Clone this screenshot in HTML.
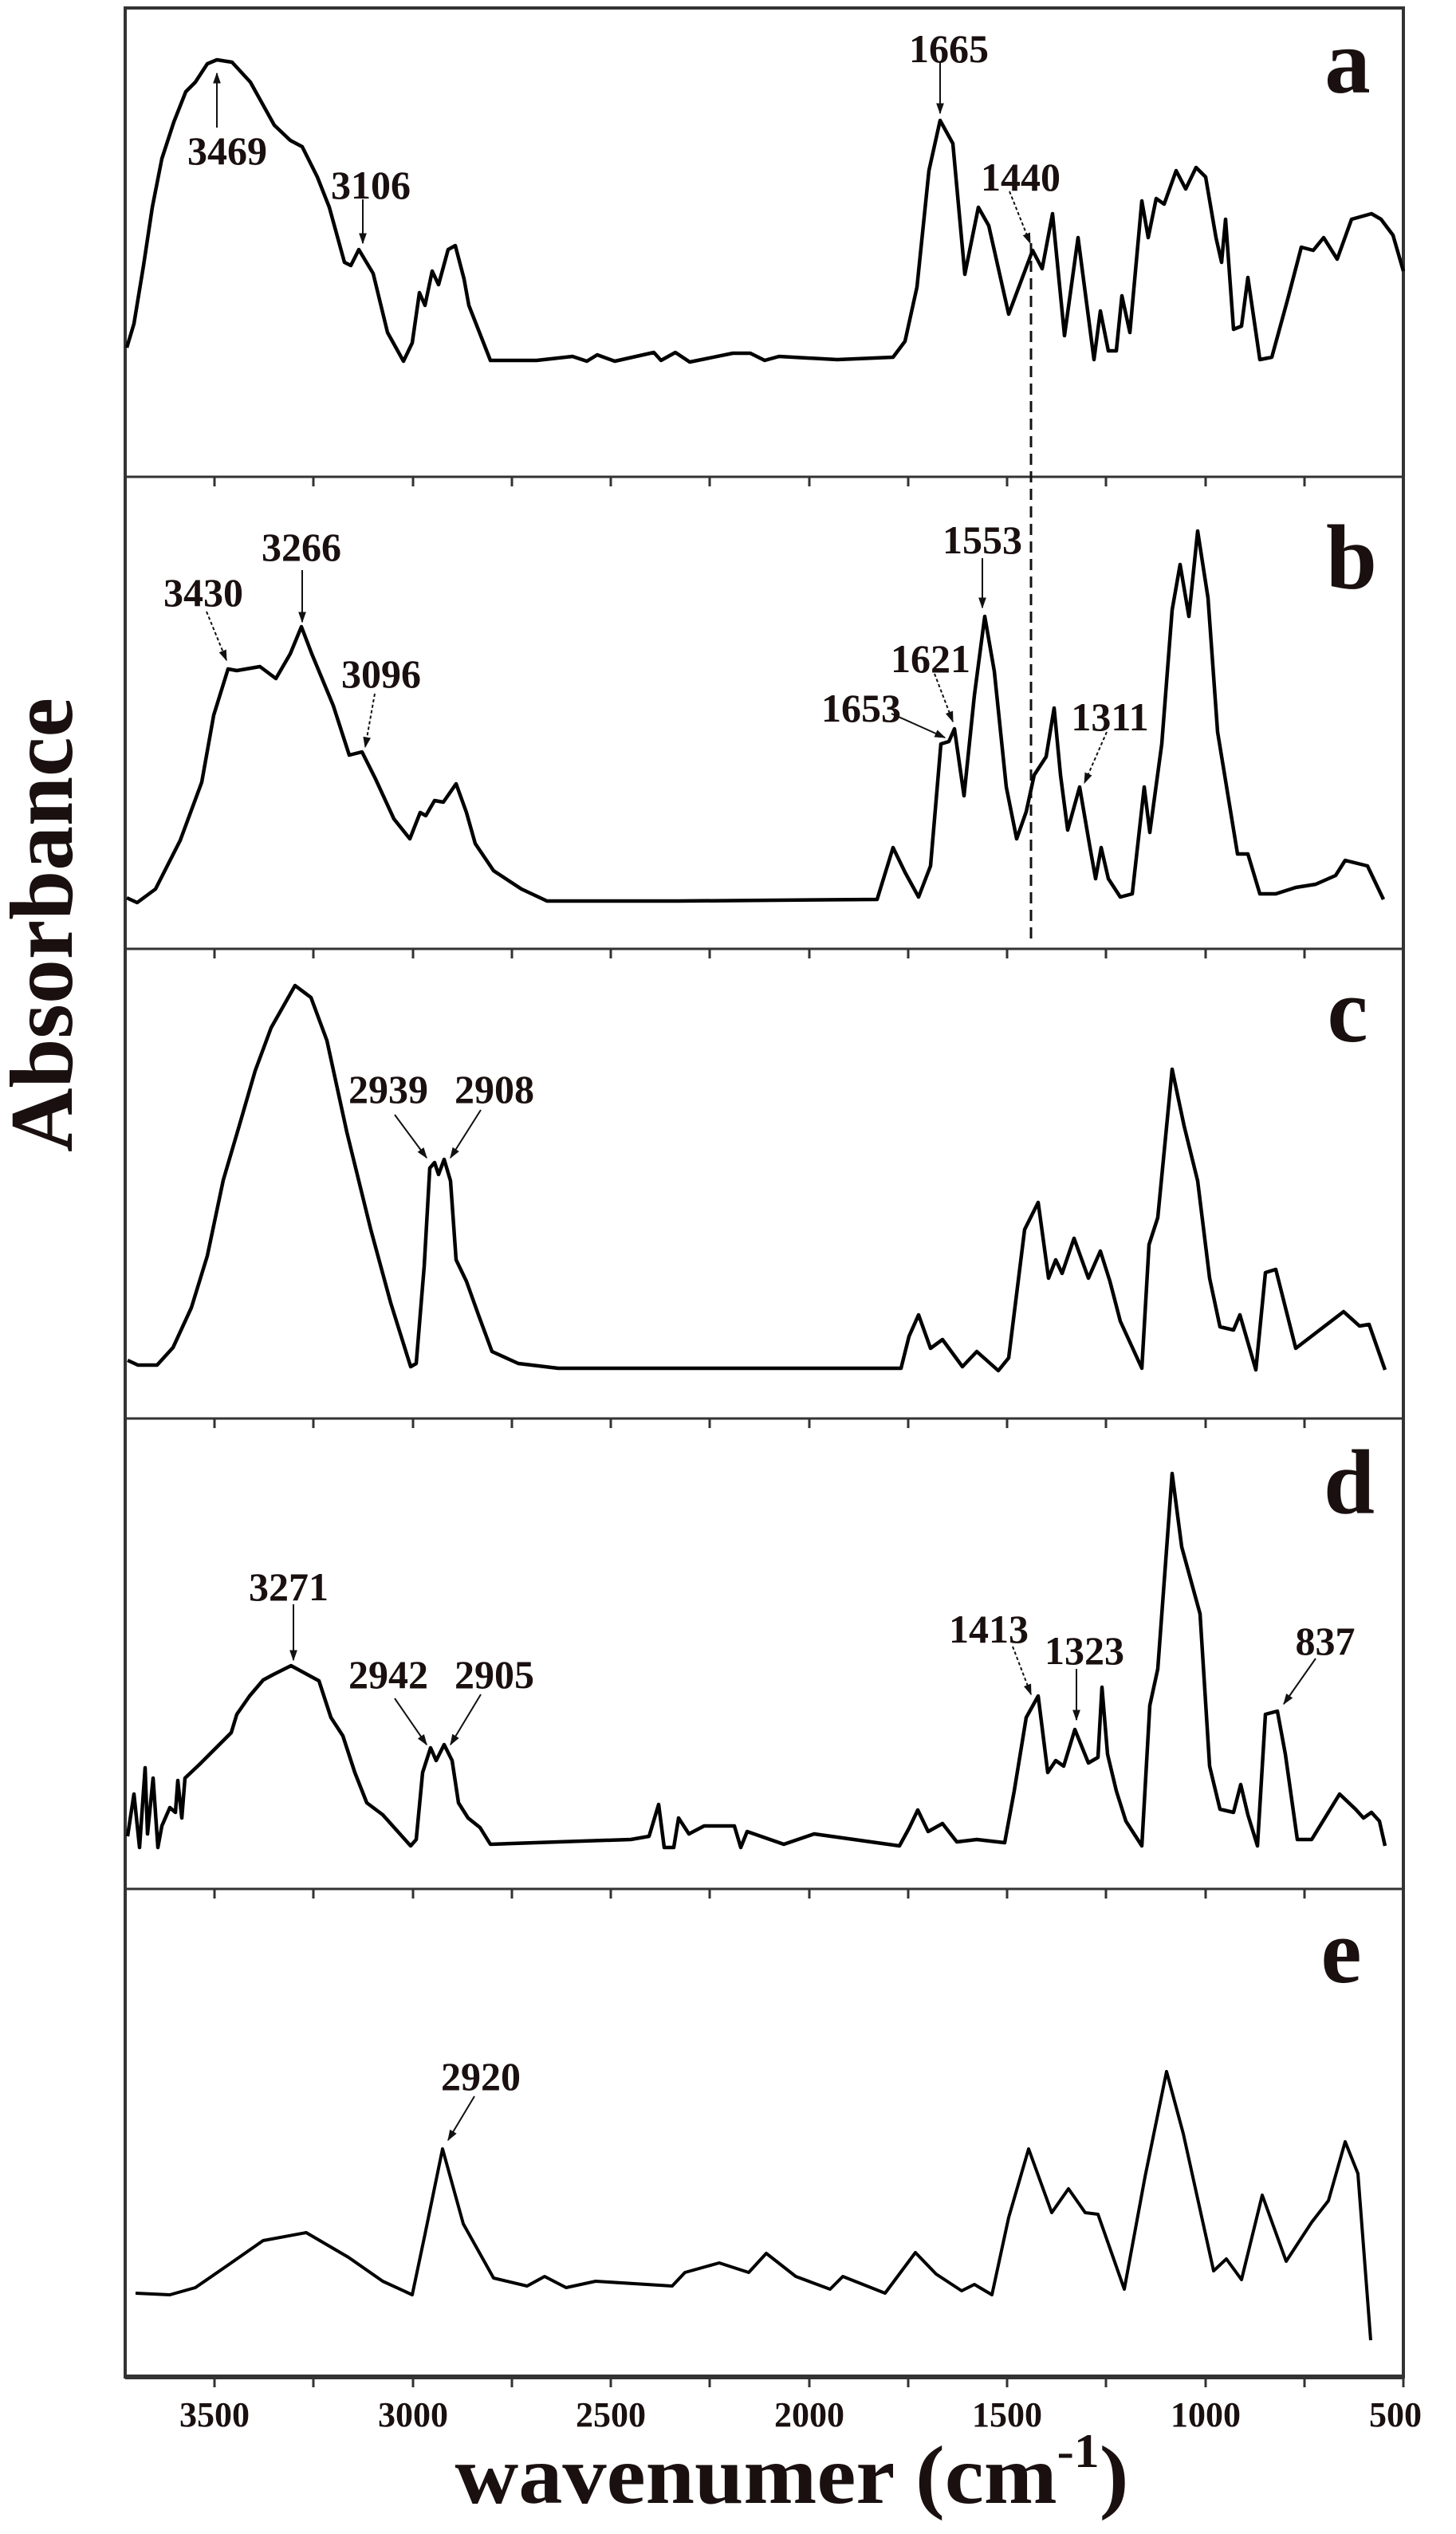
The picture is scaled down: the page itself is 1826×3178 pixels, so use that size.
<!DOCTYPE html>
<html><head><meta charset="utf-8"><style>
html,body{margin:0;padding:0;background:#fff;}
svg{display:block;}
text{font-family:"Liberation Serif",serif;fill:#1a1010;}
</style></head><body>
<svg width="1826" height="3178" viewBox="0 0 1826 3178" xmlns="http://www.w3.org/2000/svg">
<defs>
<marker id="ah2" viewBox="0 0 10 10" refX="9" refY="5" markerWidth="14" markerHeight="14" orient="auto" markerUnits="userSpaceOnUse"><path d="M0,1.5 L10,5 L0,8.5 z" fill="#111"/></marker>
</defs>
<g fill="none" stroke="#333" stroke-width="4">
<rect x="157" y="10" width="1603" height="2971"/>
</g>
<g stroke="#333" stroke-width="3">
<line x1="157" y1="598" x2="1760" y2="598"/>
<line x1="157" y1="1190" x2="1760" y2="1190"/>
<line x1="157" y1="1779" x2="1760" y2="1779"/>
<line x1="157" y1="2369" x2="1760" y2="2369"/>
<line x1="157" y1="2981" x2="1760" y2="2981" stroke-width="6"/>
</g>
<g stroke="#333" stroke-width="3">
<path d="M269,598v12M393,598v12M518,598v12M642,598v12M766,598v12M890,598v12M1015,598v12M1139,598v12M1263,598v12M1387,598v12M1512,598v12M1636,598v12"/>
<path d="M269,1190v12M393,1190v12M518,1190v12M642,1190v12M766,1190v12M890,1190v12M1015,1190v12M1139,1190v12M1263,1190v12M1387,1190v12M1512,1190v12M1636,1190v12"/>
<path d="M269,1779v12M393,1779v12M518,1779v12M642,1779v12M766,1779v12M890,1779v12M1015,1779v12M1139,1779v12M1263,1779v12M1387,1779v12M1512,1779v12M1636,1779v12"/>
<path d="M269,2369v12M393,2369v12M518,2369v12M642,2369v12M766,2369v12M890,2369v12M1015,2369v12M1139,2369v12M1263,2369v12M1387,2369v12M1512,2369v12M1636,2369v12"/>
<path d="M269,2981v13M393,2981v13M518,2981v13M642,2981v13M766,2981v13M890,2981v13M1015,2981v13M1139,2981v13M1263,2981v13M1387,2981v13M1512,2981v13M1636,2981v13M1760,2981v13"/>
</g>
<line x1="1293" y1="305" x2="1293" y2="1185" stroke="#111" stroke-width="3" stroke-dasharray="14,8"/>
<g fill="none" stroke="#000" stroke-width="4.5" stroke-linejoin="round">
<polyline points="159,436 168,406 180,333 191,260 203,199 218,153 233,115 245,103 260,80 272,75 291,78 314,103 344,157 364,176 379,184 398,222 413,260 432,329 440,333 450,313 468,343 486,417 506,453 517,430 526,367 533,383 542,340 550,357 562,313 571,308 582,350 588,383 615,452 673,452 718,447 736,453 749,445 771,453 820,442 829,452 847,442 865,454 919,443 941,443 959,452 977,447 1050,451 1120,448 1135,428 1150,360 1165,214 1179,151 1195,180 1210,344 1227,260 1240,283 1265,394 1295,314 1307,337 1320,268 1335,421 1352,298 1372,451 1380,390 1390,440 1400,440 1407,371 1417,417 1432,252 1440,298 1450,249 1460,256 1475,214 1487,237 1500,210 1512,222 1525,298 1532,329 1537,275 1547,413 1557,409 1565,348 1580,451 1595,448 1615,375 1632,310 1647,314 1660,298 1677,325 1695,275 1720,268 1732,275 1747,295 1760,340"/>
<polyline points="159,1126 172,1132 195,1115 226,1054 253,981 268,897 286,839 297,841 326,836 346,851 364,820 378,786 391,820 418,885 438,947 454,943 471,977 494,1027 514,1052 527,1019 534,1023 545,1004 556,1006 572,983 585,1019 596,1058 619,1092 654,1115 686,1130 850,1130 1100,1128 1120,1063 1135,1094 1152,1125 1167,1086 1180,933 1190,930 1197,914 1209,998 1222,872 1235,773 1247,842 1262,987 1275,1052 1287,1018 1297,972 1312,949 1322,888 1330,972 1339,1041 1354,987 1367,1063 1374,1102 1381,1063 1390,1102 1405,1125 1420,1121 1435,987 1442,1044 1457,933 1470,765 1480,708 1491,773 1502,666 1515,750 1527,918 1537,979 1552,1071 1565,1071 1580,1121 1600,1121 1625,1113 1650,1109 1675,1098 1687,1079 1715,1086 1735,1128"/>
<polyline points="160,1706 173,1712 197,1712 217,1690 240,1640 260,1575 280,1480 300,1412 320,1343 340,1289 370,1236 390,1251 410,1305 435,1420 465,1542 490,1634 515,1714 522,1710 532,1588 539,1465 545,1458 550,1473 557,1454 565,1481 572,1580 585,1607 600,1649 617,1695 650,1710 700,1716 1130,1716 1140,1676 1152,1649 1167,1691 1182,1680 1207,1714 1225,1695 1252,1719 1265,1703 1285,1542 1302,1508 1315,1603 1324,1580 1332,1597 1347,1553 1365,1603 1380,1569 1392,1607 1405,1657 1432,1716 1441,1561 1452,1527 1470,1341 1485,1412 1502,1481 1517,1603 1530,1664 1547,1668 1555,1649 1575,1718 1587,1596 1600,1592 1625,1691 1685,1645 1705,1663 1717,1661 1737,1718"/>
<polyline points="160,2303 168,2250 175,2317 182,2217 185,2300 192,2230 198,2317 203,2290 213,2267 220,2273 223,2233 228,2280 232,2230 250,2213 263,2200 290,2173 297,2150 313,2127 330,2107 343,2100 365,2089 400,2108 415,2154 430,2177 445,2223 460,2261 480,2276 515,2315 522,2307 530,2223 540,2192 547,2208 557,2188 567,2208 575,2261 587,2280 602,2292 615,2313 700,2310 791,2307 814,2303 826,2263 833,2317 845,2317 851,2280 864,2300 883,2290 921,2290 929,2317 937,2297 983,2313 1021,2300 1128,2315 1140,2293 1151,2270 1164,2297 1182,2287 1200,2310 1225,2307 1260,2311 1272,2246 1287,2154 1302,2127 1314,2223 1324,2208 1334,2215 1348,2169 1365,2211 1377,2204 1382,2116 1389,2200 1400,2246 1412,2284 1432,2315 1442,2139 1452,2093 1470,1848 1482,1940 1505,2024 1517,2215 1530,2269 1547,2273 1556,2238 1565,2276 1577,2315 1587,2150 1602,2146 1612,2200 1627,2307 1645,2307 1680,2250 1700,2269 1710,2280 1720,2273 1730,2284 1737,2315"/>
</g>
<polyline fill="none" stroke="#000" stroke-width="4" stroke-linejoin="round" points="170,2876 213,2878 245,2869 287,2840 330,2810 384,2800 437,2831 480,2861 517,2878 533,2802 555,2695 581,2789 619,2857 661,2867 683,2855 710,2869 747,2861 843,2867 859,2850 902,2838 939,2850 961,2826 998,2855 1041,2871 1057,2855 1110,2876 1148,2825 1174,2852 1206,2873 1222,2865 1244,2878 1265,2781 1290,2695 1319,2775 1340,2745 1361,2775 1377,2777 1410,2871 1436,2730 1463,2598 1484,2676 1522,2848 1538,2833 1557,2859 1583,2753 1613,2836 1645,2787 1666,2760 1687,2686 1703,2726 1719,2935"/>
<g stroke="#111" stroke-width="2" fill="none">
<line x1="272" y1="160" x2="272" y2="92" marker-end="url(#ah2)"/>
<line x1="455" y1="250" x2="455" y2="305" marker-end="url(#ah2)"/>
<line x1="1179" y1="78" x2="1179" y2="142" marker-end="url(#ah2)"/>
<line x1="1266" y1="240" x2="1292" y2="305" stroke-dasharray="4,3" marker-end="url(#ah2)"/>
<line x1="259" y1="767" x2="284" y2="828" stroke-dasharray="4,3" marker-end="url(#ah2)"/>
<line x1="379" y1="715" x2="379" y2="780" marker-end="url(#ah2)"/>
<line x1="470" y1="870" x2="458" y2="937" stroke-dasharray="4,3" marker-end="url(#ah2)"/>
<line x1="1232" y1="700" x2="1232" y2="762" marker-end="url(#ah2)"/>
<line x1="1172" y1="845" x2="1195" y2="905" stroke-dasharray="4,3" marker-end="url(#ah2)"/>
<line x1="1118" y1="895" x2="1185" y2="925" marker-end="url(#ah2)"/>
<line x1="1388" y1="918" x2="1360" y2="982" stroke-dasharray="4,3" marker-end="url(#ah2)"/>
<line x1="495" y1="1398" x2="535" y2="1452" marker-end="url(#ah2)"/>
<line x1="603" y1="1392" x2="565" y2="1452" marker-end="url(#ah2)"/>
<line x1="368" y1="2012" x2="368" y2="2082" marker-end="url(#ah2)"/>
<line x1="495" y1="2130" x2="535" y2="2188" marker-end="url(#ah2)"/>
<line x1="603" y1="2125" x2="565" y2="2188" marker-end="url(#ah2)"/>
<line x1="1270" y1="2065" x2="1293" y2="2125" stroke-dasharray="4,3" marker-end="url(#ah2)"/>
<line x1="1350" y1="2093" x2="1350" y2="2157" marker-end="url(#ah2)"/>
<line x1="1650" y1="2080" x2="1610" y2="2137" marker-end="url(#ah2)"/>
<line x1="595" y1="2629" x2="562" y2="2684" marker-end="url(#ah2)"/>
</g>
<g font-weight="bold" font-size="50" text-anchor="middle">
<text x="285" y="206">3469</text>
<text x="465" y="249">3106</text>
<text x="1190" y="78">1665</text>
<text x="1280" y="239">1440</text>
<text x="255" y="760">3430</text>
<text x="378" y="703">3266</text>
<text x="478" y="862">3096</text>
<text x="1232" y="694">1553</text>
<text x="1167" y="843">1621</text>
<text x="1080" y="905">1653</text>
<text x="1392" y="916">1311</text>
<text x="487" y="1383">2939</text>
<text x="620" y="1383">2908</text>
<text x="362" y="2007">3271</text>
<text x="487" y="2117">2942</text>
<text x="620" y="2117">2905</text>
<text x="1240" y="2060">1413</text>
<text x="1360" y="2087">1323</text>
<text x="1662" y="2075">837</text>
<text x="603" y="2621">2920</text>
</g>
<g font-weight="bold" font-size="115" text-anchor="middle">
<text x="1690" y="116">a</text>
<text x="1695" y="738">b</text>
<text x="1690" y="1306">c</text>
<text x="1692" y="1898">d</text>
<text x="1682" y="2486">e</text>
</g>
<g font-weight="bold" font-size="44" text-anchor="middle">
<text x="269" y="3043">3500</text>
<text x="518" y="3043">3000</text>
<text x="766" y="3043">2500</text>
<text x="1015" y="3043">2000</text>
<text x="1263" y="3043">1500</text>
<text x="1512" y="3043">1000</text>
<text x="1750" y="3043">500</text>
</g>
<text x="993" y="3139" font-weight="bold" font-size="104" text-anchor="middle" textLength="845" lengthAdjust="spacingAndGlyphs">wavenumer (cm<tspan font-size="60" dy="-45">-1</tspan><tspan dy="45">)</tspan></text>
<text transform="translate(90,1160) rotate(-90)" font-weight="bold" font-size="112" text-anchor="middle" textLength="570" lengthAdjust="spacingAndGlyphs">Absorbance</text>
</svg>
</body></html>
